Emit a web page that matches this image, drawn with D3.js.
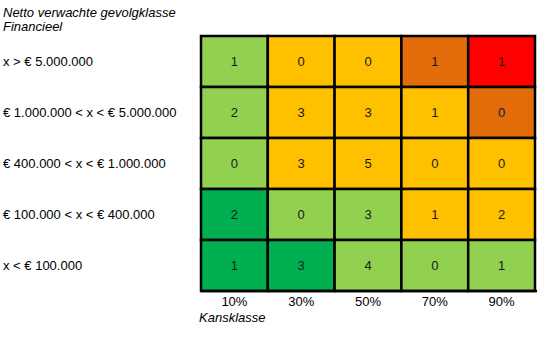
<!DOCTYPE html>
<html><head><meta charset="utf-8">
<script src="https://cdn.jsdelivr.net/npm/d3@7"></script>
<style>body{margin:0;background:#fff;} text{font-family:"Liberation Sans",Arial,sans-serif;}</style>
</head><body><svg id="c" width="549" height="338"></svg>
<script>
const rowLabels = ["x > € 5.000.000","€ 1.000.000 < x < € 5.000.000","€ 400.000 < x < € 1.000.000","€ 100.000 < x < € 400.000","x < € 100.000"];
const colLabels = ["10%","30%","50%","70%","90%"];
const values = [
  [1,0,0,1,1],
  [2,3,3,1,0],
  [0,3,5,0,0],
  [2,0,3,1,2],
  [1,3,4,0,1]
];
const levels = [
  ["lg","y","y","o","r"],
  ["lg","y","y","y","o"],
  ["lg","y","y","y","y"],
  ["dg","lg","lg","y","y"],
  ["dg","dg","lg","lg","lg"]
];
const levelColors = {dg:"#00B050", lg:"#92D050", y:"#FFC000", o:"#E26B0A", r:"#FF0000"};
const yTitle = ["Netto verwachte gevolgklasse","Financieel"];
const xTitle = "Kansklasse";

const svg = d3.select("#c");
const x = d3.scaleBand().domain(colLabels).range([201,535]);
const y = d3.scaleBand().domain(rowLabels).range([36,291]);

const cells = [];
values.forEach((r,i)=>r.forEach((v,j)=>cells.push({row:rowLabels[i],col:colLabels[j],v,l:levels[i][j]})));

svg.selectAll("rect.cell").data(cells).join("rect").attr("class","cell")
  .attr("x",d=>x(d.col)).attr("y",d=>y(d.row))
  .attr("width",x.bandwidth()).attr("height",y.bandwidth())
  .attr("fill",d=>levelColors[d.l]).attr("stroke","#000").attr("stroke-width",2.5);

svg.selectAll("text.val").data(cells).join("text").attr("class","val")
  .attr("x",d=>x(d.col)+x.bandwidth()/2).attr("y",d=>y(d.row)+y.bandwidth()/2)
  .attr("text-anchor","middle").attr("dy","0.35em").attr("font-size",13).attr("fill","#1a1a1a")
  .text(d=>d.v);

svg.append("line").attr("x1",201).attr("x2",537).attr("y1",291).attr("y2",291).attr("stroke","#000").attr("stroke-width",2.5);

svg.selectAll("text.rl").data(rowLabels).join("text").attr("class","rl")
  .attr("x",3).attr("y",d=>y(d)+y.bandwidth()/2).attr("dy","0.35em")
  .attr("font-size",13).attr("fill","#000").text(d=>d);

svg.selectAll("text.cl").data(colLabels).join("text").attr("class","cl")
  .attr("x",d=>x(d)+x.bandwidth()/2).attr("y",301).attr("dy","0.35em")
  .attr("text-anchor","middle").attr("font-size",13).attr("fill","#000").text(d=>d);

svg.append("text").attr("x",199).attr("y",317).attr("dy","0.35em").attr("font-size",13)
  .attr("font-style","italic").attr("fill","#000").text(xTitle);

svg.selectAll("text.yt").data(yTitle).join("text").attr("class","yt")
  .attr("x",3).attr("y",(d,i)=>12+i*14).attr("dy","0.35em").attr("font-size",13)
  .attr("font-style","italic").attr("fill","#000").text(d=>d);
</script></body></html>
